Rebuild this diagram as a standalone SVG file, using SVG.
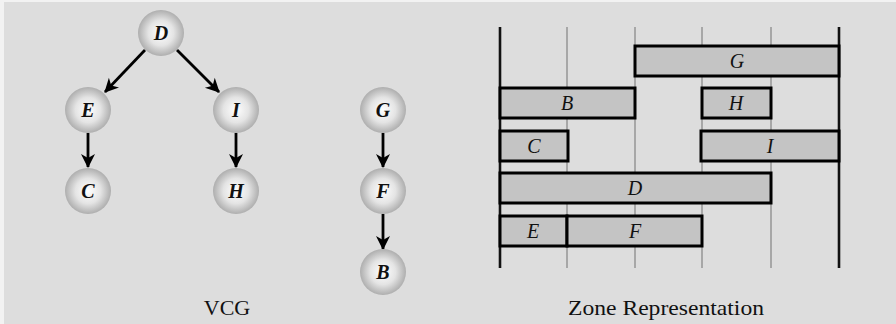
<svg xmlns="http://www.w3.org/2000/svg" width="896" height="324" viewBox="0 0 896 324">
<defs>
<radialGradient id="ball" cx="50%" cy="50%" r="50%">
<stop offset="0" stop-color="#ffffff"/>
<stop offset="0.55" stop-color="#e4e4e4"/>
<stop offset="1" stop-color="#aeaeae"/>
</radialGradient>
<marker id="arr" markerUnits="userSpaceOnUse" markerWidth="16" markerHeight="16" viewBox="0 0 16 16" refX="14" refY="8" orient="auto">
<path d="M1,1 L15,8 L1,15 L5,8 z" fill="#000"/>
</marker>
</defs>
<style>
.node circle{fill:url(#ball);}
.lbl{font-family:"Liberation Serif",serif;font-style:italic;font-size:20px;text-anchor:middle;fill:#111;}
.node .lbl{font-weight:bold;}
.edge{stroke:#000;stroke-width:2.8;fill:none;marker-end:url(#arr);}
.grid{stroke:#9a9a9a;stroke-width:1.6;}
.bound{stroke:#111;stroke-width:2.6;}
.zone rect{fill:#c4c4c4;stroke:#000;stroke-width:3;}
.cap{font-family:"Liberation Serif",serif;font-size:22px;text-anchor:middle;fill:#111;}
</style>
<rect x="0" y="0" width="896" height="324" fill="#f2f2f2"/>
<rect x="4" y="2" width="892" height="322" fill="#dddddd"/>

<g id="connectors">
<line class="edge" x1="145" y1="50" x2="105" y2="92"/>
<line class="edge" x1="177" y1="50" x2="219" y2="92"/>
<line class="edge" x1="88" y1="133" x2="88" y2="167"/>
<line class="edge" x1="236" y1="133" x2="236" y2="167"/>
<line class="edge" x1="383" y1="133" x2="383" y2="167"/>
<line class="edge" x1="383" y1="214" x2="383" y2="249"/>
</g>

<g id="node-D" class="node"><circle cx="161" cy="33" r="23"/><text class="lbl" x="161" y="40">D</text></g>
<g id="node-E" class="node"><circle cx="88" cy="110" r="23"/><text class="lbl" x="88" y="117">E</text></g>
<g id="node-I" class="node"><circle cx="236" cy="110" r="23"/><text class="lbl" x="236" y="117">I</text></g>
<g id="node-C" class="node"><circle cx="88" cy="191" r="23"/><text class="lbl" x="88" y="198">C</text></g>
<g id="node-H" class="node"><circle cx="236" cy="191" r="23"/><text class="lbl" x="236" y="198">H</text></g>
<g id="node-G" class="node"><circle cx="383" cy="110" r="23"/><text class="lbl" x="383" y="117">G</text></g>
<g id="node-F" class="node"><circle cx="383" cy="191" r="23"/><text class="lbl" x="383" y="198">F</text></g>
<g id="node-B" class="node"><circle cx="383" cy="272" r="23"/><text class="lbl" x="383" y="279">B</text></g>

<text class="cap" x="227" y="315">VCG</text>

<g id="zone-grid">
<line class="grid" x1="567" y1="27" x2="567" y2="268"/>
<line class="grid" x1="635" y1="27" x2="635" y2="268"/>
<line class="grid" x1="702" y1="27" x2="702" y2="268"/>
<line class="grid" x1="771" y1="27" x2="771" y2="268"/>
<line class="bound" x1="500" y1="27" x2="500" y2="268"/>
<line class="bound" x1="839" y1="27" x2="839" y2="268"/>
</g>

<g id="zone-G" class="zone"><rect x="635" y="46" width="204" height="30"/><text class="lbl" x="737" y="68">G</text></g>
<g id="zone-B" class="zone"><rect x="500" y="88" width="135" height="30"/><text class="lbl" x="567" y="110">B</text></g>
<g id="zone-H" class="zone"><rect x="702" y="88" width="69" height="30"/><text class="lbl" x="736" y="110">H</text></g>
<g id="zone-C" class="zone"><rect x="500" y="131" width="68" height="30"/><text class="lbl" x="534" y="153">C</text></g>
<g id="zone-I" class="zone"><rect x="701" y="131" width="138" height="30"/><text class="lbl" x="770" y="153">I</text></g>
<g id="zone-D" class="zone"><rect x="500" y="173" width="271" height="30"/><text class="lbl" x="635" y="195">D</text></g>
<g id="zone-E" class="zone"><rect x="500" y="216" width="67" height="30"/><text class="lbl" x="533" y="238">E</text></g>
<g id="zone-F" class="zone"><rect x="567" y="216" width="135" height="30"/><text class="lbl" x="635" y="238">F</text></g>

<text class="cap" x="666" y="315" textLength="196" lengthAdjust="spacingAndGlyphs">Zone Representation</text>
</svg>
